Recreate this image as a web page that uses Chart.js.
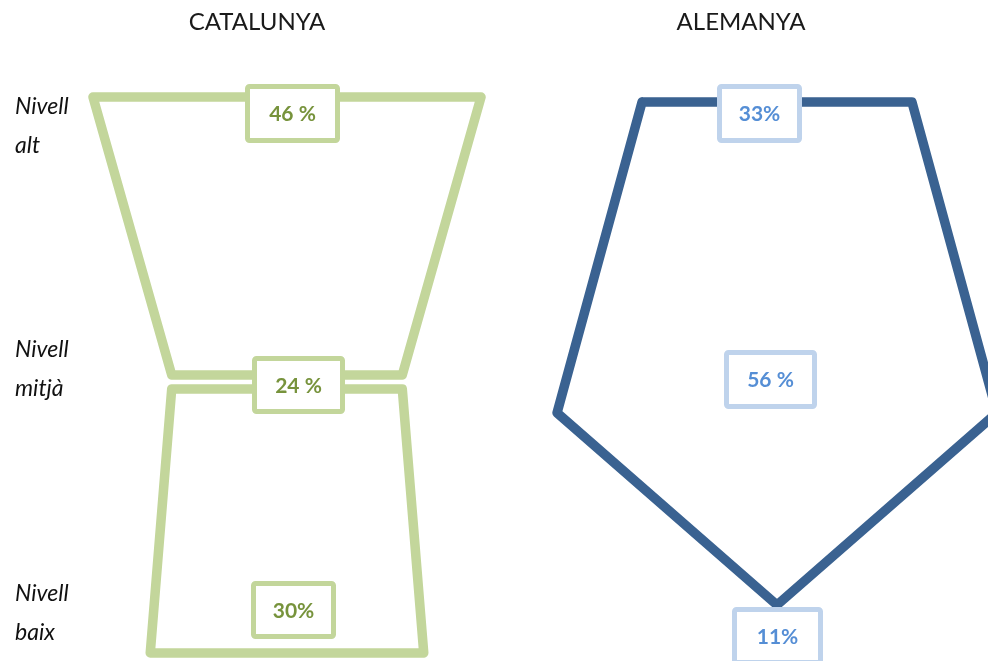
<!DOCTYPE html>
<html><head><meta charset="utf-8">
<script src="https://cdn.jsdelivr.net/npm/chart.js@4"></script>
<style>
html,body{margin:0;padding:0;background:#fff;width:988px;height:661px;overflow:hidden}
#wrap{position:relative;width:988px;height:661px;background:#fff}
canvas{position:absolute;top:0}
#c1{left:0}
#c2{left:494px}
</style></head><body>
<div id="wrap"><canvas id="c1" width="499" height="661"></canvas><canvas id="c2" width="494" height="661"></canvas></div>
<script>
// ---- data ----
const panels = ['CATALUNYA', 'ALEMANYA'];
const levelValues = [2, 1, 0];               // alt, mitjà, baix
const levelTicks = [['Nivell', 'alt'], ['Nivell', 'mitjà'], ['Nivell', 'baix']];
const catalunya = [46, 24, 30];              // % alt, mitjà, baix
const alemanya = [33, 56, 11];
const catalunyaLabels = ['46 %', '24 %', '30%'];
const alemanyaLabels = ['33%', '56 %', '11%'];

// ---- style ----
const FONT = 'Lato, "Open Sans", sans-serif';
const GREEN = '#c3d69b', GREEN_TXT = '#77933c';
const BLUE = '#3a6291', BLUE_BOX = '#bfd3ec', BLUE_TXT = '#558ed5';
const LINE_W = 9.5;
const TOP = 55; // chart area top (below title)
const H = 661;
const W1 = 499, W2 = 494;

function boxPlugin(items, stroke, color) {
  return {
    id: 'boxes',
    afterDatasetsDraw(chart) {
      const ctx = chart.ctx, xs = chart.scales.x, ys = chart.scales.y;
      ctx.save();
      items.forEach(it => {
        const cx = xs.getPixelForValue(0) + it.dx;
        const cy = ys.getPixelForValue(it.level) + it.dy;
        const w = it.w - 5, h = it.h - 5;
        ctx.beginPath();
        if (ctx.roundRect) ctx.roundRect(cx - w / 2, cy - h / 2, w, h, 2);
        else ctx.rect(cx - w / 2, cy - h / 2, w, h);
        ctx.fillStyle = '#fff';
        ctx.fill();
        ctx.lineWidth = 5;
        ctx.strokeStyle = stroke;
        ctx.stroke();
        ctx.fillStyle = color;
        ctx.font = 'bold 21px ' + FONT;
        ctx.textAlign = 'center';
        ctx.textBaseline = 'middle';
        ctx.fillText(it.text, cx, cy + 1);
      });
      ctx.restore();
    }
  };
}

function lineDs(points, color) {
  return {
    data: points, showLine: true, borderColor: color, borderWidth: LINE_W,
    pointRadius: 0, pointHoverRadius: 0, fill: false, tension: 0,
    borderJoinStyle: 'round', borderCapStyle: 'round', clip: false
  };
}

function titleOpts(text) {
  return {
    display: true, text: text, color: '#1a1a1a',
    font: { family: FONT, size: 24, weight: 'normal', lineHeight: 1.2 },
    padding: { top: 8, bottom: TOP - 8 - 28.8 }
  };
}

// ---- CATALUNYA ----
const catCenter = 287, catK = 7.16, catPad = 4.1, catGap = 0.05, catLeft = 80;
const catPxPerLevel = 278, catTopPx = 97;
const hwC = v => v / 2 + catPad;
const catTopShape = [
  { x: -hwC(catalunya[0]), y: levelValues[0] }, { x: hwC(catalunya[0]), y: levelValues[0] },
  { x: hwC(catalunya[1]), y: levelValues[1] }, { x: -hwC(catalunya[1]), y: levelValues[1] },
  { x: -hwC(catalunya[0]), y: levelValues[0] }
];
const catBotShape = [
  { x: -hwC(catalunya[1]), y: levelValues[1] - catGap }, { x: hwC(catalunya[1]), y: levelValues[1] - catGap },
  { x: hwC(catalunya[2]), y: levelValues[2] }, { x: -hwC(catalunya[2]), y: levelValues[2] },
  { x: -hwC(catalunya[1]), y: levelValues[1] - catGap }
];
const catYMax = 2 + (catTopPx - TOP) / catPxPerLevel;
const catYMin = catYMax - (H - TOP) / catPxPerLevel;
const lblPx = 243.5, lblTopPx = 126;
const lblMax = 2 + (lblTopPx - TOP) / lblPx;
const lblMin = lblMax - (H - TOP) / lblPx;

const catBoxes = [
  { level: 2, dx: 5.5, dy: 16.5, w: 95, h: 59, text: catalunyaLabels[0] },
  { level: 1, dx: 11.5, dy: 10, w: 93, h: 58, text: catalunyaLabels[1] },
  { level: 0, dx: 6.5, dy: -43, w: 85, h: 58, text: catalunyaLabels[2] }
];

new Chart(document.getElementById('c1'), {
  type: 'scatter',
  data: { datasets: [lineDs(catTopShape, GREEN), lineDs(catBotShape, GREEN)] },
  options: {
    responsive: false, animation: false, devicePixelRatio: 1,
    layout: { padding: { left: 15, right: 0, top: 0, bottom: 0 } },
    plugins: { legend: { display: false }, tooltip: { enabled: false }, title: titleOpts(panels[0]) },
    scales: {
      x: { type: 'linear', display: false, min: -(catCenter - catLeft) / catK, max: (W1 - catCenter) / catK },
      y: { type: 'linear', display: false, min: catYMin, max: catYMax },
      y2: {
        type: 'linear', position: 'left', min: lblMin, max: lblMax,
        grid: { display: false }, border: { display: false },
        afterBuildTicks: s => { s.ticks = levelValues.map(v => ({ value: v })); },
        afterFit: s => { s.width = catLeft - 15; s.paddingTop = 0; s.paddingBottom = 0; },
        ticks: {
          crossAlign: 'far', padding: 0, color: '#111',
          font: { family: FONT, size: 23, style: 'italic', lineHeight: 1.7 },
          callback: v => levelTicks[levelValues.indexOf(v)]
        }
      }
    }
  },
  plugins: [boxPlugin(catBoxes, GREEN, GREEN_TXT)]
});

// ---- ALEMANYA ----
const aleCenter = 283, aleK = 7.39, alePad = 1.76, aleWaist = 0.236;
const alePxPerLevel = 251.5, aleTopPx = 102;
const hwA = v => v / 2 + alePad;
const aleShape = [
  { x: -hwA(alemanya[0]), y: levelValues[0] }, { x: hwA(alemanya[0]), y: levelValues[0] },
  { x: hwA(alemanya[1]), y: levelValues[1] - aleWaist }, { x: 0, y: levelValues[2] },
  { x: -hwA(alemanya[1]), y: levelValues[1] - aleWaist }, { x: -hwA(alemanya[0]), y: levelValues[0] }
];
const aleYMax = 2 + (aleTopPx - TOP) / alePxPerLevel;
const aleYMin = aleYMax - (H - TOP) / alePxPerLevel;
const aleBoxes = [
  { level: 2, dx: -17.5, dy: 11.5, w: 85, h: 59, text: alemanyaLabels[0] },
  { level: 1, dx: -6.5, dy: 26, w: 93, h: 59, text: alemanyaLabels[1] },
  { level: 0, dx: 0.5, dy: 31, w: 91, h: 58, text: alemanyaLabels[2] }
];

new Chart(document.getElementById('c2'), {
  type: 'scatter',
  data: { datasets: [lineDs(aleShape, BLUE)] },
  options: {
    responsive: false, animation: false, devicePixelRatio: 1,
    layout: { padding: 0 },
    plugins: { legend: { display: false }, tooltip: { enabled: false }, title: titleOpts(panels[1]) },
    scales: {
      x: { type: 'linear', display: false, min: -aleCenter / aleK, max: (W2 - aleCenter) / aleK },
      y: { type: 'linear', display: false, min: aleYMin, max: aleYMax }
    }
  },
  plugins: [boxPlugin(aleBoxes, BLUE_BOX, BLUE_TXT)]
});
</script>
</body></html>
